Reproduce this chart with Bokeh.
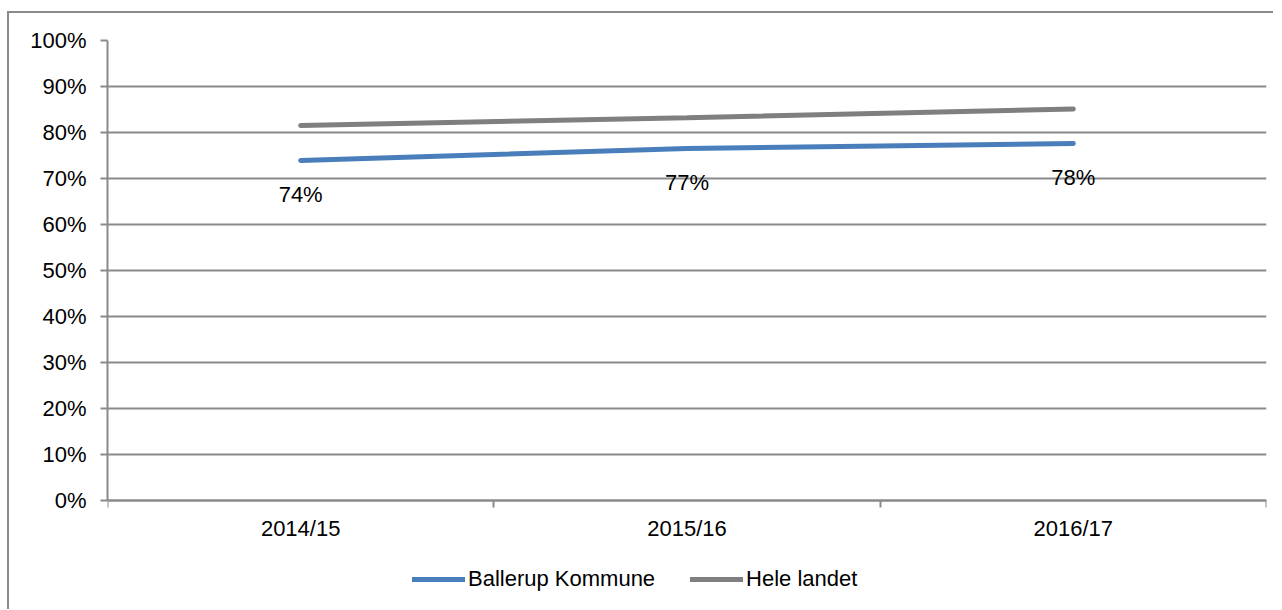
from bokeh.plotting import figure
from bokeh.models import (Range1d, FixedTicker, NumeralTickFormatter, Legend,
                          LegendItem, ColumnDataSource)
from bokeh.core.properties import value
from bokeh.embed import file_html
from bokeh.resources import INLINE

categories = ["2014/15", "2015/16", "2016/17"]
ballerup = [0.739, 0.765, 0.776]
hele_landet = [0.815, 0.832, 0.851]
ballerup_labels = ["74%", "77%", "78%"]
y_ticks = [0.0, 0.1, 0.2, 0.3, 0.4, 0.5, 0.6, 0.7, 0.8, 0.9, 1.0]

FONT = "Liberation Sans"
GRAY = "#8a8a8a"

xs = [i + 0.5 for i in range(len(categories))]
src = ColumnDataSource(dict(x=xs, b=ballerup, h=hele_landet, lab=ballerup_labels))

# frame extends below the 0% line so that the legend can sit inside it
p = figure(width=1266, height=598, output_backend="svg", toolbar_location=None,
           x_range=Range1d(0, len(categories)), y_range=Range1d(-0.2183, 1),
           min_border_left=98, min_border_right=9, min_border_top=27,
           min_border_bottom=11)
p.margin = (11, 0, 0, 7)
p.styles = {"border-left": f"2px solid {GRAY}", "border-top": f"2px solid {GRAY}",
            "box-sizing": "border-box"}
p.outline_line_color = None
p.background_fill_color = "white"
p.border_fill_color = "white"

# axes
p.yaxis.ticker = FixedTicker(ticks=y_ticks)
p.yaxis.formatter = NumeralTickFormatter(format="0%")
p.yaxis.bounds = (0, 1)
p.xaxis.ticker = FixedTicker(ticks=xs, minor_ticks=list(range(len(categories) + 1)))
p.xaxis.major_label_overrides = {x: c for x, c in zip(xs, categories)}
p.xaxis.fixed_location = 0
for ax in (p.xaxis, p.yaxis):
    ax.axis_line_color = GRAY
    ax.axis_line_width = 2
    ax.major_label_text_font = FONT
    ax.major_label_text_font_size = "22px"
    ax.major_label_text_color = "black"
p.yaxis.major_tick_line_color = GRAY
p.yaxis.major_tick_line_width = 2
p.yaxis.major_tick_out = 7
p.yaxis.major_tick_in = 0
p.yaxis.minor_tick_line_color = None
p.yaxis.major_label_standoff = 14
p.xaxis.major_tick_out = 0
p.xaxis.major_tick_in = 0
p.xaxis.minor_tick_line_color = GRAY
p.xaxis.minor_tick_line_width = 2
p.xaxis.minor_tick_out = 7
p.xaxis.minor_tick_in = 0
p.xaxis.major_label_standoff = 9

p.xgrid.grid_line_color = None
p.ygrid.ticker = FixedTicker(ticks=y_ticks)
p.ygrid.grid_line_color = GRAY
p.ygrid.grid_line_width = 2

r_h = p.line("x", "h", source=src, line_color="#7f7f7f", line_width=5, line_cap="round")
r_b = p.line("x", "b", source=src, line_color="#4a7ebb", line_width=5, line_cap="round")

p.text("x", "b", text="lab", source=src, y_offset=34, text_align="center",
       text_baseline="middle", text_font=value(FONT), text_font_size="22px",
       text_color="black")

legend = Legend(items=[LegendItem(label="Ballerup Kommune", renderers=[r_b]),
                       LegendItem(label="Hele landet", renderers=[r_h])],
                orientation="horizontal", location=(305, 8),
                glyph_width=53, glyph_height=22, label_standoff=3, spacing=35,
                padding=0, margin=0, border_line_color=None,
                background_fill_alpha=0,
                label_text_font=FONT, label_text_font_size="22px",
                label_text_color="black")
p.add_layout(legend, "center")

open("out.html", "w").write(file_html(p, INLINE))
